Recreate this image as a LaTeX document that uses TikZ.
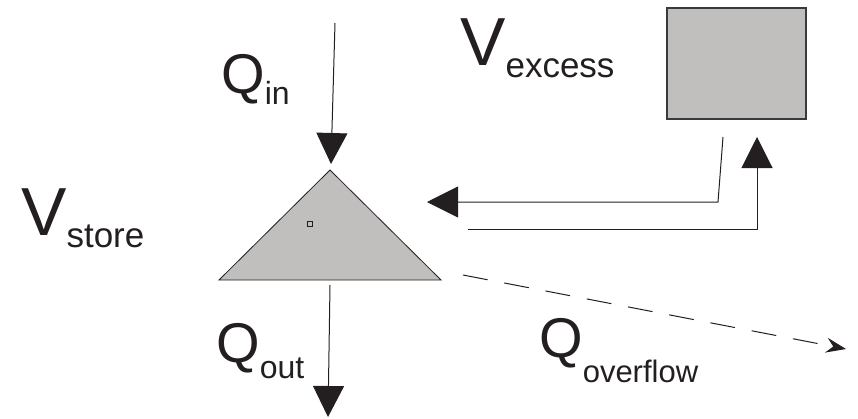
\documentclass[tikz,border=0pt]{standalone}
\usepackage{fontspec}
\setmainfont{Liberation Sans}
\usetikzlibrary{arrows.meta,positioning}
\definecolor{ink}{HTML}{231F20}
\definecolor{tank}{HTML}{C0BFBD}
\definecolor{rim}{HTML}{3A3A3A}
\newcommand{\flowlab}[5]{{\fontsize{#1}{#1}\selectfont #2}{\fontsize{#4}{#4}\selectfont\raisebox{-#3pt}{#5}}}

\begin{document}
\begin{tikzpicture}[x=1pt,y=-1pt,
  flow/.style={draw=ink,line width=1pt,-{Triangle[length=31pt,width=31pt]}},
  spill/.style={draw=ink,line width=1pt,dash pattern=on 25pt off 17pt,-{Stealth[length=20pt,width=15pt,inset=7pt]}},
  lab/.style={anchor=base west,inner sep=0pt,text=ink}]
  \useasboundingbox (0,0) rectangle (858,418);
  \coordinate (top) at (330,170);
  \coordinate (left) at (219,280);
  \coordinate (right) at (441,280);
  \filldraw[fill=tank,draw=ink,line width=0.8pt] (top) -- (right) -- (left) -- cycle;
  \draw[ink,line width=0.6pt] (307,221) rectangle (312,226);
  \node[draw=rim,fill=tank,line width=1.2pt,minimum width=139,minimum height=111,inner sep=0pt] (excess) at (736.5,63.5) {};
  \coordinate (in-src) at (335,23);
  \coordinate (in-tip) at (331,164);
  \coordinate (out-src) at (330,285);
  \coordinate (out-tip) at (328,417);
  \coordinate (ret-src) at (723,137);
  \coordinate (ret-bend) at (718,202);
  \coordinate (ret-tip) at (427,202);
  \coordinate (up-src) at (468,229);
  \coordinate (up-bend) at (757,229);
  \coordinate (up-tip) at (757,137);
  \coordinate (spill-src) at (463,275);
  \coordinate (spill-tip) at (846,349);
  \draw[flow] (in-src) -- (in-tip);
  \draw[flow] (out-src) -- (out-tip);
  \draw[flow] (ret-src) -- (ret-bend) -- (ret-tip);
  \draw[flow] (up-src) -- (up-bend) -- (up-tip);
  \draw[spill] (spill-src) -- (spill-tip);
  \node[lab] (vstore) at (21,235) {\flowlab{68}{V}{12}{35}{store}};
  \node[lab] (vexcess) at (460,65) {\flowlab{68}{V}{12}{35}{excess}};
  \node[lab] (qin) at (221,93) {\flowlab{56}{Q}{11}{32}{in}};
  \node[lab] (qout) at (216,362) {\flowlab{56}{Q}{16}{32}{out}};
  \node[lab] (qover) at (539,357) {\flowlab{56}{Q}{25}{31}{overflow}};
\end{tikzpicture}
\end{document}
